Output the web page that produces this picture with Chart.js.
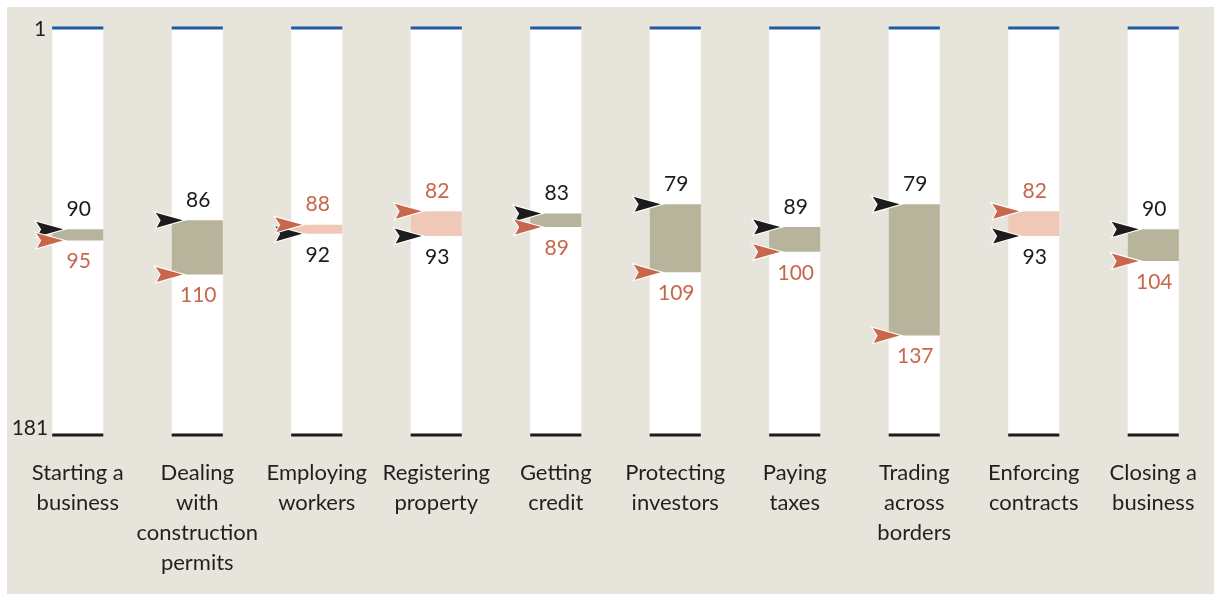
<!DOCTYPE html>
<html><head><meta charset="utf-8">
<script src="https://cdn.jsdelivr.net/npm/chart.js@4.4.0/dist/chart.umd.min.js"></script>
<style>html,body{margin:0;padding:0;background:#fff}#wrap{width:1214px;height:594px;position:relative}canvas{display:block}</style>
</head><body><div id="wrap"><canvas id="c" width="1214" height="594"></canvas></div>
<script>
const categories = [["Starting a","business"],["Dealing","with","construction","permits"],["Employing","workers"],["Registering","property"],["Getting","credit"],["Protecting","investors"],["Paying","taxes"],["Trading","across","borders"],["Enforcing","contracts"],["Closing a","business"]];
const previousRank = [90,86,92,93,83,79,89,79,93,90];   // black arrows
const currentRank  = [95,110,88,82,89,109,100,137,82,104]; // orange arrows
const rankTicks = [1,181];

const BG = '#e7e4dc', TAN = '#b8b39b', PINK = '#efc8b8', ORANGE = '#c8674c', BLACK = '#1d1b1c', BLUE = '#1f5b9e', TXT = '#231f20';
const FONT = 'Lato, "Open Sans", sans-serif';

const decor = {
  id: 'decor',
  beforeDraw(chart) {
    const ctx = chart.ctx;
    ctx.save();
    ctx.fillStyle = '#fff'; ctx.fillRect(0, 0, chart.width, chart.height);
    ctx.fillStyle = BG; ctx.fillRect(7, 7, chart.width - 7, chart.height - 7);
    ctx.restore();
  },
  afterDatasetsDraw(chart) {
    const ctx = chart.ctx, y = chart.scales.y;
    const cols = chart.getDatasetMeta(1).data;
    ctx.save();
    cols.forEach(el => {
      const l = el.x - el.width / 2, w = el.width;
      ctx.fillStyle = BLUE; ctx.fillRect(l, y.getPixelForValue(rankTicks[0]) - 1.5, w, 3);
      ctx.fillStyle = BLACK; ctx.fillRect(l, y.getPixelForValue(rankTicks[1]) - 1.5, w, 3);
    });
    ctx.font = '21px ' + FONT; ctx.fillStyle = TXT; ctx.textAlign = 'right'; ctx.textBaseline = 'middle';
    ctx.fillText(String(rankTicks[0]), cols[0].x - cols[0].width / 2 - 6, y.getPixelForValue(rankTicks[0]) + 1);
    ctx.fillText(String(rankTicks[1]), cols[0].x - cols[0].width / 2 - 4, y.getPixelForValue(rankTicks[1]) - 7);
    const arrow = (tx, ty, color) => {
      ctx.beginPath();
      ctx.moveTo(tx, ty);
      ctx.lineTo(tx - 27, ty - 7.5);
      ctx.lineTo(tx - 22, ty);
      ctx.lineTo(tx - 26, ty + 7.5);
      ctx.closePath();
      ctx.lineJoin = 'miter';
      ctx.lineWidth = 2.2; ctx.strokeStyle = '#fff'; ctx.stroke();
      ctx.fillStyle = color; ctx.fill();
    };
    cols.forEach((el, i) => {
      const tx = el.x - el.width / 2 + 11;
      const pb = y.getPixelForValue(previousRank[i]);
      const pc = y.getPixelForValue(currentRank[i]);
      arrow(tx, pb, BLACK);
      arrow(tx, pc, ORANGE);
      ctx.font = '21px ' + FONT; ctx.textAlign = 'center'; ctx.textBaseline = 'middle';
      const prevTop = previousRank[i] <= currentRank[i];
      ctx.fillStyle = BLACK;
      ctx.fillText(String(previousRank[i]), el.x + 1, prevTop ? pb - 20 : pb + 21);
      ctx.fillStyle = ORANGE;
      ctx.fillText(String(currentRank[i]), el.x + 1, prevTop ? pc + 21 : pc - 20);
    });
    ctx.restore();
  }
};

new Chart(document.getElementById('c'), {
  type: 'bar',
  data: {
    labels: categories,
    datasets: [
      {
        label: 'change',
        data: categories.map((_, i) => [previousRank[i], currentRank[i]]),
        backgroundColor: categories.map((_, i) => currentRank[i] > previousRank[i] ? TAN : PINK),
        grouped: false, order: 1, borderWidth: 0,
        categoryPercentage: 1, barPercentage: 0.428
      },
      {
        label: 'column',
        data: categories.map(() => [rankTicks[0], rankTicks[1]]),
        backgroundColor: '#ffffff',
        grouped: false, order: 2, borderWidth: 0,
        categoryPercentage: 1, barPercentage: 0.428
      }
    ]
  },
  options: {
    responsive: false, animation: false, devicePixelRatio: 1,
    layout: { padding: { top: 28, left: 18, right: 1, bottom: 0 } },
    plugins: { legend: { display: false }, tooltip: { enabled: false } },
    scales: {
      y: { display: false, reverse: true, min: rankTicks[0], max: rankTicks[1] },
      x: {
        grid: { display: false, drawTicks: false }, border: { display: false },
        ticks: { color: TXT, font: { family: FONT, size: 22, lineHeight: 30 / 22 }, padding: 23, maxRotation: 0, autoSkip: false },
        afterFit(scale) { scale.height = 159; scale.paddingLeft = 0; scale.paddingRight = 0; }
      }
    }
  },
  plugins: [decor]
});
</script></body></html>
